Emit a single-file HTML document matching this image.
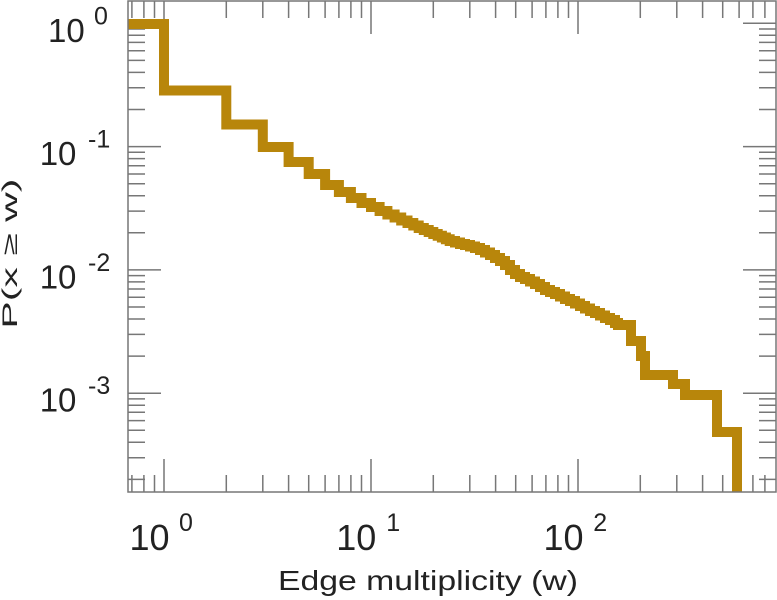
<!DOCTYPE html>
<html>
<head>
<meta charset="utf-8">
<style>
html,body{margin:0;padding:0;background:#fff;}
svg{display:block;}
text{font-family:"Liberation Sans",Arial,sans-serif;fill:#222;}
</style>
</head>
<body>
<svg width="777" height="600" viewBox="0 0 777 600" xmlns="http://www.w3.org/2000/svg">
<defs>
<clipPath id="ax"><rect x="128" y="1" width="648" height="491"/></clipPath>
</defs>
<rect x="0" y="0" width="777" height="600" fill="#fff"/>

<!-- ticks -->
<g stroke="#777" stroke-width="1.5" fill="none">
<path d="M131.9 492V475M143.9 492V475M154.5 492V475
M226.3 492V475M262.8 492V475M288.6 492V475M308.7 492V475M325.1 492V475M338.9 492V475M350.9 492V475M361.5 492V475
M433.3 492V475M469.8 492V475M495.6 492V475M515.7 492V475M532.1 492V475M545.9 492V475M557.9 492V475M568.5 492V475
M640.3 492V475M676.8 492V475M702.6 492V475M722.7 492V475M739.1 492V475M752.9 492V475M764.9 492V475"/>
<path d="M164 492V459M371 492V459M578 492V459"/>
<path d="M131.9 1V18M143.9 1V18M154.5 1V18
M226.3 1V18M262.8 1V18M288.6 1V18M308.7 1V18M325.1 1V18M338.9 1V18M350.9 1V18M361.5 1V18
M433.3 1V18M469.8 1V18M495.6 1V18M515.7 1V18M532.1 1V18M545.9 1V18M557.9 1V18M568.5 1V18
M640.3 1V18M676.8 1V18M702.6 1V18M722.7 1V18M739.1 1V18M752.9 1V18M764.9 1V18"/>
<path d="M164 1V34M371 1V34M578 1V34"/>
<path d="M128 109.5H145M128 87.8H145M128 72.4H145M128 60.4H145M128 50.7H145M128 42.4H145M128 35.3H145M128 29H145
M128 232.8H145M128 211.1H145M128 195.7H145M128 183.7H145M128 174H145M128 165.7H145M128 158.6H145M128 152.3H145
M128 356.1H145M128 334.4H145M128 319H145M128 307H145M128 297.3H145M128 289H145M128 281.9H145M128 275.6H145
M128 479.4H145M128 457.7H145M128 442.3H145M128 430.3H145M128 420.6H145M128 412.3H145M128 405.2H145M128 398.9H145"/>
<path d="M128 23.3H161M128 146.6H161M128 269.9H161M128 393.2H161"/>
<path d="M776 109.5H759M776 87.8H759M776 72.4H759M776 60.4H759M776 50.7H759M776 42.4H759M776 35.3H759M776 29H759
M776 232.8H759M776 211.1H759M776 195.7H759M776 183.7H759M776 174H759M776 165.7H759M776 158.6H759M776 152.3H759
M776 356.1H759M776 334.4H759M776 319H759M776 307H759M776 297.3H759M776 289H759M776 281.9H759M776 275.6H759
M776 479.4H759M776 457.7H759M776 442.3H759M776 430.3H759M776 420.6H759M776 412.3H759M776 405.2H759M776 398.9H759"/>
<path d="M776 23.3H743M776 146.6H743M776 269.9H743M776 393.2H743"/>
</g>

<!-- data -->
<g clip-path="url(#ax)">
<path fill="none" stroke="#b8860b" stroke-width="10" stroke-linejoin="miter" stroke-linecap="butt"
d="M118 24H164V90.5H226.3V124.5H262.8V147H288.6V162H308.7V174H325.1V185H338.9V192H350.9V198H361.5V203H371V207H379.6V211H387.4V214.5H394.6V217.5H401.2V220.5H407.5V223H413.3V225.5H418.7V228H423.8V230H428.7V232H433.3V234H437.7V235.8H441.9V237.5H445.9V239.3H449.7V241H455V242.5H460V244H465V245H470V246.5H475V248H480V250H485V252.5H490V255H495V258H500V261H505V265H510V270H515V274H520V277H525V279H530V281.5H535V284H540V287H545V290H550V292H555V294H560V296.5H565V299H570V301H575V303.5H580V306H585V308.5H590V311H595V313H600V315.5H605V318H610V320H615V323H618V325H631V341H641V356H645V375H673V384H685V395H717V432H737V510"/>
</g>

<!-- frame -->
<rect x="128" y="1" width="648" height="491" fill="none" stroke="#777" stroke-width="1.5"/>

<!-- y tick labels -->
<text x="48" y="41.8" font-size="33">10</text>
<text x="94" y="24.3" font-size="25">0</text>
<text x="39.7" y="165.1" font-size="33">10</text>
<text x="88" y="147.6" font-size="25">-1</text>
<text x="39.7" y="288.4" font-size="33">10</text>
<text x="88" y="270.9" font-size="25">-2</text>
<text x="39.7" y="411.7" font-size="33">10</text>
<text x="88" y="394.2" font-size="25">-3</text>

<!-- x tick labels -->
<text x="129.5" y="550" font-size="36">10</text>
<text x="179" y="531" font-size="25">0</text>
<text x="336.2" y="550" font-size="36">10</text>
<text x="386.3" y="531" font-size="25">1</text>
<text x="543.5" y="550" font-size="36">10</text>
<text x="593.3" y="531" font-size="25">2</text>

<!-- axis labels -->
<text x="278" y="590" font-size="28" textLength="300" lengthAdjust="spacingAndGlyphs">Edge multiplicity (w)</text>
<text transform="translate(17,328.6) rotate(-90)" font-size="21" textLength="150" lengthAdjust="spacingAndGlyphs">P(x ≥ w)</text>
</svg>
</body>
</html>
